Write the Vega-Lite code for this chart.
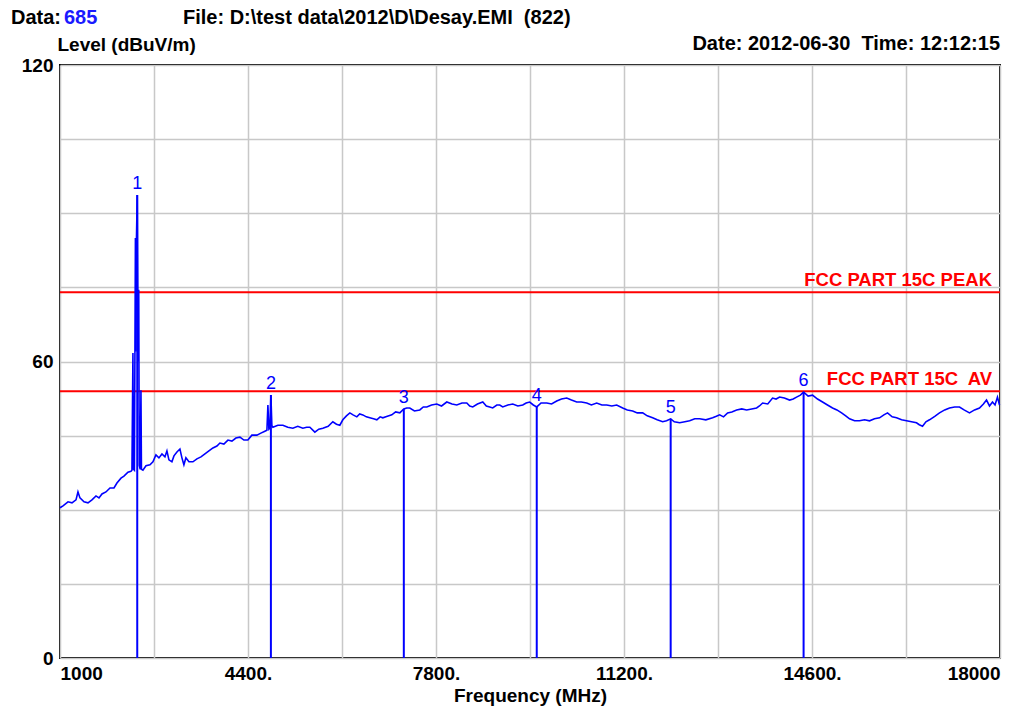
{
  "$schema": "https://vega.github.io/schema/vega-lite/v6.json",
  "width": 940,
  "height": 593,
  "autosize": {"type": "none"},
  "padding": {"left": 60, "top": 65, "right": 15, "bottom": 55},
  "background": "white",
  "config": {
    "font": "Liberation Sans",
    "view": {"stroke": "black", "strokeWidth": 2},
    "axis": {"gridColor": "#c8c8c8", "gridWidth": 1.5, "gridOpacity": 1, "ticks": false, "domain": false, "labelFont": "Liberation Sans", "labelFontWeight": "bold", "labelFontSize": 19, "labelColor": "black", "titleFont": "Liberation Sans", "titleFontWeight": "bold", "titleFontSize": 19, "titleColor": "black", "labelOverlap": false}
  },
  "datasets": {
    "trace": [
      {"freq":1000,"level":30.4},{"freq":1054,"level":30.8},{"freq":1145,"level":31.6},{"freq":1217,"level":31.4},{"freq":1289,"level":32.0},{"freq":1325,"level":33.6},{"freq":1361,"level":32.4},{"freq":1434,"level":31.6},{"freq":1506,"level":31.4},{"freq":1578,"level":32.0},{"freq":1651,"level":32.8},{"freq":1705,"level":32.4},{"freq":1759,"level":33.2},{"freq":1831,"level":33.6},{"freq":1904,"level":34.4},{"freq":1976,"level":34.4},{"freq":2030,"level":35.4},{"freq":2103,"level":36.4},{"freq":2157,"level":36.8},{"freq":2229,"level":37.6},{"freq":2283,"level":37.8},{"freq":2301,"level":38.0},{"freq":2319,"level":61.7},{"freq":2328,"level":38.2},{"freq":2346,"level":38.0},{"freq":2364,"level":85.0},{"freq":2374,"level":62.0},{"freq":2383,"level":85.0},{"freq":2397,"level":93.7},{"freq":2406,"level":74.5},{"freq":2415,"level":60.0},{"freq":2424,"level":74.5},{"freq":2433,"level":39.0},{"freq":2451,"level":38.2},{"freq":2464,"level":54.2},{"freq":2473,"level":38.2},{"freq":2500,"level":38.0},{"freq":2555,"level":38.9},{"freq":2627,"level":39.1},{"freq":2681,"level":39.7},{"freq":2735,"level":41.1},{"freq":2789,"level":40.5},{"freq":2844,"level":41.3},{"freq":2898,"level":40.7},{"freq":2934,"level":41.9},{"freq":2970,"level":40.1},{"freq":3024,"level":39.7},{"freq":3061,"level":40.9},{"freq":3115,"level":41.7},{"freq":3169,"level":42.3},{"freq":3205,"level":40.5},{"freq":3241,"level":39.1},{"freq":3277,"level":40.5},{"freq":3332,"level":39.7},{"freq":3404,"level":39.7},{"freq":3476,"level":40.3},{"freq":3549,"level":40.7},{"freq":3621,"level":41.3},{"freq":3693,"level":41.9},{"freq":3766,"level":42.5},{"freq":3838,"level":42.9},{"freq":3892,"level":43.5},{"freq":3964,"level":43.3},{"freq":4037,"level":44.1},{"freq":4109,"level":43.9},{"freq":4181,"level":44.5},{"freq":4254,"level":44.7},{"freq":4326,"level":44.1},{"freq":4398,"level":44.1},{"freq":4470,"level":45.1},{"freq":4561,"level":45.1},{"freq":4633,"level":45.5},{"freq":4705,"level":45.9},{"freq":4742,"level":46.1},{"freq":4760,"level":51.2},{"freq":4778,"level":46.3},{"freq":4796,"level":46.5},{"freq":4814,"level":53.2},{"freq":4832,"level":47.0},{"freq":4850,"level":46.7},{"freq":4940,"level":47.1},{"freq":5031,"level":47.1},{"freq":5120,"level":46.7},{"freq":5211,"level":46.5},{"freq":5300,"level":46.9},{"freq":5392,"level":46.5},{"freq":5460,"level":46.7},{"freq":5519,"level":46.7},{"freq":5609,"level":45.7},{"freq":5680,"level":46.3},{"freq":5754,"level":46.5},{"freq":5850,"level":46.9},{"freq":5934,"level":47.8},{"freq":6000,"level":47.3},{"freq":6061,"level":47.1},{"freq":6115,"level":48.2},{"freq":6180,"level":49.0},{"freq":6242,"level":49.6},{"freq":6300,"level":49.2},{"freq":6368,"level":48.8},{"freq":6420,"level":49.4},{"freq":6477,"level":49.2},{"freq":6540,"level":48.8},{"freq":6603,"level":48.6},{"freq":6670,"level":48.4},{"freq":6730,"level":48.2},{"freq":6790,"level":48.8},{"freq":6838,"level":48.6},{"freq":6920,"level":48.9},{"freq":7001,"level":49.2},{"freq":7070,"level":49.8},{"freq":7146,"level":49.6},{"freq":7218,"level":50.4},{"freq":7270,"level":50.6},{"freq":7326,"level":50.6},{"freq":7410,"level":50.0},{"freq":7507,"level":50.2},{"freq":7570,"level":50.8},{"freq":7634,"level":50.8},{"freq":7720,"level":51.2},{"freq":7814,"level":51.4},{"freq":7900,"level":51.0},{"freq":7995,"level":51.8},{"freq":8090,"level":51.4},{"freq":8176,"level":51.2},{"freq":8270,"level":51.6},{"freq":8357,"level":51.6},{"freq":8410,"level":51.0},{"freq":8465,"level":50.8},{"freq":8550,"level":51.4},{"freq":8646,"level":51.8},{"freq":8710,"level":51.0},{"freq":8772,"level":50.8},{"freq":8826,"level":50.6},{"freq":8900,"level":51.2},{"freq":8953,"level":51.2},{"freq":9007,"level":50.8},{"freq":9100,"level":51.2},{"freq":9188,"level":51.4},{"freq":9280,"level":51.0},{"freq":9369,"level":51.2},{"freq":9430,"level":51.6},{"freq":9495,"level":51.8},{"freq":9560,"level":51.2},{"freq":9622,"level":50.8},{"freq":9700,"level":51.6},{"freq":9803,"level":51.6},{"freq":9890,"level":51.4},{"freq":9983,"level":52.0},{"freq":10070,"level":52.4},{"freq":10164,"level":52.6},{"freq":10250,"level":52.2},{"freq":10345,"level":51.8},{"freq":10430,"level":51.8},{"freq":10526,"level":51.6},{"freq":10610,"level":51.2},{"freq":10706,"level":51.6},{"freq":10800,"level":51.2},{"freq":10887,"level":51.2},{"freq":10980,"level":51.0},{"freq":11068,"level":51.2},{"freq":11176,"level":50.6},{"freq":11260,"level":50.2},{"freq":11357,"level":50.0},{"freq":11440,"level":49.6},{"freq":11538,"level":49.6},{"freq":11620,"level":49.0},{"freq":11718,"level":48.6},{"freq":11800,"level":48.2},{"freq":11899,"level":47.8},{"freq":11970,"level":48.0},{"freq":12044,"level":48.4},{"freq":12110,"level":47.8},{"freq":12207,"level":47.6},{"freq":12300,"level":47.8},{"freq":12387,"level":48.0},{"freq":12480,"level":48.4},{"freq":12568,"level":48.4},{"freq":12680,"level":48.2},{"freq":12803,"level":48.6},{"freq":12870,"level":48.9},{"freq":12930,"level":49.2},{"freq":13000,"level":48.8},{"freq":13074,"level":49.6},{"freq":13150,"level":49.8},{"freq":13237,"level":50.2},{"freq":13330,"level":50.4},{"freq":13418,"level":50.2},{"freq":13510,"level":50.4},{"freq":13598,"level":50.6},{"freq":13650,"level":51.0},{"freq":13707,"level":51.6},{"freq":13800,"level":51.4},{"freq":13887,"level":52.6},{"freq":13950,"level":52.4},{"freq":14014,"level":52.8},{"freq":14100,"level":52.6},{"freq":14195,"level":52.2},{"freq":14260,"level":52.4},{"freq":14321,"level":52.8},{"freq":14390,"level":53.2},{"freq":14448,"level":53.8},{"freq":14530,"level":53.0},{"freq":14610,"level":53.2},{"freq":14700,"level":52.4},{"freq":14791,"level":51.8},{"freq":14880,"level":51.2},{"freq":14972,"level":50.6},{"freq":15050,"level":50.2},{"freq":15135,"level":49.6},{"freq":15210,"level":49.0},{"freq":15279,"level":48.4},{"freq":15370,"level":48.0},{"freq":15460,"level":48.0},{"freq":15550,"level":48.2},{"freq":15641,"level":48.0},{"freq":15730,"level":48.4},{"freq":15822,"level":48.6},{"freq":15900,"level":49.2},{"freq":15966,"level":49.6},{"freq":16050,"level":48.8},{"freq":16129,"level":48.6},{"freq":16220,"level":48.2},{"freq":16310,"level":48.0},{"freq":16400,"level":47.8},{"freq":16490,"level":47.6},{"freq":16540,"level":47.2},{"freq":16599,"level":46.9},{"freq":16660,"level":47.8},{"freq":16725,"level":48.2},{"freq":16820,"level":48.9},{"freq":16906,"level":49.6},{"freq":17000,"level":50.2},{"freq":17087,"level":50.6},{"freq":17180,"level":50.8},{"freq":17268,"level":50.8},{"freq":17350,"level":50.2},{"freq":17448,"level":49.6},{"freq":17540,"level":50.2},{"freq":17629,"level":50.6},{"freq":17700,"level":51.4},{"freq":17756,"level":52.2},{"freq":17810,"level":51.0},{"freq":17864,"level":51.8},{"freq":17910,"level":51.2},{"freq":17954,"level":52.8},{"freq":17991,"level":51.2}
    ],
    "markers": [
      {"freq":2397,"level":93.7,"label":"1"},
      {"freq":4814,"level":53.2,"label":"2"},
      {"freq":7218,"level":50.4,"label":"3"},
      {"freq":9622,"level":50.8,"label":"4"},
      {"freq":12044,"level":48.4,"label":"5"},
      {"freq":14448,"level":53.8,"label":"6"}
    ],
    "limits": [
      {"level":74,"name":"FCC PART 15C PEAK"},
      {"level":54,"name":"FCC PART 15C\u00a0 AV"}
    ],
    "header": [
      {"anchor": 1}
    ]
  },
  "layer": [
    {
      "data": {"name": "limits"},
      "mark": {"type": "rule", "color": "#ff0000", "strokeWidth": 2},
      "encoding": {
        "y": {"field": "level", "type": "quantitative"}
      }
    },
    {
      "data": {"name": "markers"},
      "mark": {"type": "rule", "color": "#0000ff", "strokeWidth": 2},
      "encoding": {
        "x": {"field": "freq", "type": "quantitative"},
        "y": {"field": "level", "type": "quantitative"},
        "y2": {"datum": 0}
      }
    },
    {
      "data": {"name": "trace"},
      "mark": {"type": "line", "color": "#0000ff", "strokeWidth": 1.6},
      "encoding": {
        "x": {"field": "freq", "type": "quantitative",
          "scale": {"domain": [1000, 18000], "nice": false, "zero": false},
          "axis": {"values": [1000,2700,4400,6100,7800,9500,11200,12900,14600,16300,18000], "grid": true, "labelFlush": true, "labelPadding": 6, "titlePadding": 3, "title": "Frequency (MHz)",
            "labelExpr": "datum.value == 1000 || datum.value == 18000 ? '' + datum.value : (indexof([4400,7800,11200,14600], datum.value) >= 0 ? datum.value + '.' : '')"}},
        "y": {"field": "level", "type": "quantitative",
          "scale": {"domain": [0, 120], "nice": false, "zero": true},
          "axis": {"values": [0,15,30,45,60,75,90,105,120], "grid": true, "labelPadding": 7,
            "labelExpr": "datum.value % 60 == 0 ? '' + datum.value : ''",
            "title": "Level (dBuV/m)", "titleAngle": 0, "titleX": -3, "titleY": -15, "titleAlign": "left", "titleBaseline": "alphabetic"}}
      }
    },
    {
      "data": {"name": "markers"},
      "mark": {"type": "text", "color": "#0000ff", "fontSize": 18, "font": "Liberation Sans", "align": "center", "baseline": "alphabetic", "dy": -6},
      "encoding": {
        "x": {"field": "freq", "type": "quantitative"},
        "y": {"field": "level", "type": "quantitative"},
        "text": {"field": "label"}
      }
    },
    {
      "data": {"name": "limits"},
      "mark": {"type": "text", "color": "#ff0000", "fontSize": 18.5, "fontWeight": "bold", "font": "Liberation Sans", "align": "right", "baseline": "alphabetic", "dx": -8, "dy": -6},
      "encoding": {
        "x": {"datum": 18000, "type": "quantitative"},
        "y": {"field": "level", "type": "quantitative"},
        "text": {"field": "name"}
      }
    },
    {
      "data": {"name": "header"},
      "mark": {"type": "text", "text": "Data:", "color": "black", "fontSize": 20, "fontWeight": "bold", "align": "left", "baseline": "alphabetic", "dx": -49, "dy": -41},
      "encoding": {"x": {"datum": 1000, "type": "quantitative"}, "y": {"datum": 120, "type": "quantitative"}}
    },
    {
      "data": {"name": "header"},
      "mark": {"type": "text", "text": "685", "color": "#1a1aff", "fontSize": 20, "fontWeight": "bold", "align": "left", "baseline": "alphabetic", "dx": 4, "dy": -41},
      "encoding": {"x": {"datum": 1000, "type": "quantitative"}, "y": {"datum": 120, "type": "quantitative"}}
    },
    {
      "data": {"name": "header"},
      "mark": {"type": "text", "text": "File: D:\\test data\\2012\\D\\Desay.EMI\u00a0 (822)", "color": "black", "fontSize": 20, "fontWeight": "bold", "align": "left", "baseline": "alphabetic", "dx": 123, "dy": -41},
      "encoding": {"x": {"datum": 1000, "type": "quantitative"}, "y": {"datum": 120, "type": "quantitative"}}
    },
    {
      "data": {"name": "header"},
      "mark": {"type": "text", "text": "Date: 2012-06-30\u00a0 Time: 12:12:15", "color": "black", "fontSize": 20, "fontWeight": "bold", "align": "right", "baseline": "alphabetic", "dx": 0, "dy": -15},
      "encoding": {"x": {"datum": 18000, "type": "quantitative"}, "y": {"datum": 120, "type": "quantitative"}}
    }
  ]
}
